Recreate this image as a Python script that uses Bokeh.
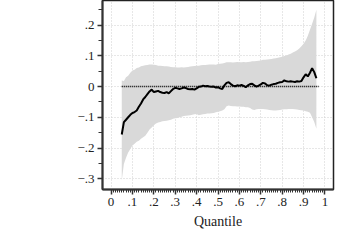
from bokeh.plotting import figure
from bokeh.models import FixedTicker, Range1d, ColumnDataSource
from bokeh.embed import file_html
from bokeh.resources import INLINE

# ---- data -------------------------------------------------------------
quantile = [round(0.05 + 0.01 * i, 2) for i in range(92)]  # 0.05 ... 0.96

estimate = [
    -0.156, -0.116, -0.108, -0.100, -0.092, -0.086, -0.083, -0.078, -0.066, -0.055,
    -0.042, -0.034, -0.025, -0.016, -0.010, -0.018, -0.016, -0.014, -0.018, -0.020,
    -0.021, -0.018, -0.022, -0.015, -0.008, -0.004, -0.006, -0.008, -0.006, -0.003,
    -0.005, -0.008, -0.009, -0.008, -0.010, -0.006, -0.001, 0.000, 0.003, 0.001,
    0.002, 0.000, -0.001, 0.000, -0.003, -0.002, -0.006, -0.008, 0.004, 0.012,
    0.014, 0.008, 0.003, 0.001, 0.004, 0.003, 0.005, 0.002, -0.002, 0.004,
    0.008, 0.009, 0.004, 0.000, 0.003, 0.007, 0.012, 0.010, 0.004, 0.003,
    0.006, 0.008, 0.009, 0.012, 0.014, 0.015, 0.020, 0.017, 0.016, 0.017,
    0.016, 0.015, 0.017, 0.016, 0.018, 0.030, 0.040, 0.033, 0.045, 0.060,
    0.047, 0.027,
]

upper = [
    0.020, 0.018, 0.030, 0.035, 0.045, 0.052, 0.055, 0.060, 0.062, 0.066,
    0.068, 0.069, 0.070, 0.072, 0.072, 0.071, 0.070, 0.068, 0.068, 0.067,
    0.066, 0.066, 0.065, 0.064, 0.063, 0.063, 0.062, 0.062, 0.063, 0.062,
    0.063, 0.064, 0.065, 0.066, 0.067, 0.068, 0.068, 0.069, 0.070, 0.070,
    0.071, 0.072, 0.072, 0.072, 0.071, 0.073, 0.074, 0.075, 0.077, 0.079,
    0.079, 0.079, 0.078, 0.079, 0.080, 0.079, 0.079, 0.080, 0.079, 0.080,
    0.081, 0.082, 0.082, 0.083, 0.084, 0.085, 0.087, 0.087, 0.088, 0.089,
    0.090, 0.091, 0.092, 0.094, 0.095, 0.097, 0.099, 0.101, 0.104, 0.107,
    0.111, 0.114, 0.118, 0.124, 0.131, 0.139, 0.150, 0.165, 0.185, 0.204,
    0.225, 0.250,
]

lower = [
    -0.306, -0.252, -0.232, -0.215, -0.203, -0.192, -0.186, -0.180, -0.176, -0.170,
    -0.165, -0.160, -0.150, -0.140, -0.133, -0.126, -0.120, -0.117, -0.115, -0.113,
    -0.112, -0.111, -0.110, -0.108, -0.105, -0.103, -0.102, -0.100, -0.098, -0.096,
    -0.095, -0.094, -0.093, -0.092, -0.090, -0.089, -0.093, -0.092, -0.090, -0.089,
    -0.088, -0.088, -0.087, -0.086, -0.084, -0.082, -0.080, -0.078, -0.074, -0.064,
    -0.062, -0.063, -0.064, -0.064, -0.065, -0.065, -0.066, -0.066, -0.067, -0.067,
    -0.070, -0.075, -0.076, -0.074, -0.073, -0.073, -0.073, -0.074, -0.075, -0.076,
    -0.077, -0.078, -0.078, -0.077, -0.076, -0.075, -0.074, -0.074, -0.073, -0.073,
    -0.073, -0.074, -0.075, -0.076, -0.077, -0.078, -0.080, -0.082, -0.085, -0.100,
    -0.115, -0.137,
]

zero_x = [0.05, 0.97]
zero_y = [0.0, 0.0]

x_ticks = [0, 0.1, 0.2, 0.3, 0.4, 0.5, 0.6, 0.7, 0.8, 0.9, 1]
x_labels = ["0", ".1", ".2", ".3", ".4", ".5", ".6", ".7", ".8", ".9", "1"]
y_ticks = [-0.3, -0.2, -0.1, 0, 0.1, 0.2]
y_labels = ["\u2212.3", "\u2212.2", "\u2212.1", "0", ".1", ".2"]
x_title = "Quantile"

# ---- figure -----------------------------------------------------------
FONT = "Liberation Serif"

p = figure(width=352, height=232, output_backend="svg", toolbar_location=None,
           x_range=Range1d(-0.04, 1.04), y_range=Range1d(-0.335, 0.28),
           min_border_left=102, min_border_right=19, min_border_top=0,
           min_border_bottom=43, background_fill_color="white",
           border_fill_color="white")
p.outline_line_color = "#222222"
p.outline_line_width = 1.5

src = ColumnDataSource(dict(q=quantile, est=estimate, lo=lower, hi=upper))
p.varea(x="q", y1="lo", y2="hi", source=src, fill_color="#d9d9d9")
p.line(zero_x, zero_y, line_color="black", line_width=1.5, line_dash="1 1")
p.line(x="q", y="est", source=src, line_color="black", line_width=2)

p.xaxis.ticker = FixedTicker(ticks=x_ticks,
                             minor_ticks=[i / 100 for i in range(0, 101)])
p.yaxis.ticker = FixedTicker(ticks=y_ticks,
                             minor_ticks=[-0.3 + 0.05 * i for i in range(12)])
p.xaxis.major_label_overrides = dict(zip(x_ticks, x_labels))
p.yaxis.major_label_overrides = dict(zip(y_ticks, y_labels))
p.xaxis.axis_label = x_title

for ax in (p.xaxis, p.yaxis):
    ax.axis_line_color = "#333333"
    ax.axis_line_width = 2
    ax.major_tick_line_color = "#333333"
    ax.minor_tick_line_color = "#333333"
    ax.major_tick_line_width = 1.5
    ax.minor_tick_line_width = 1
    ax.major_tick_in = 0
    ax.major_tick_out = 5
    ax.minor_tick_in = 0
    ax.minor_tick_out = 3
    ax.major_label_text_font = FONT
    ax.major_label_text_font_size = "13px"
    ax.major_label_text_color = "#222222"
    ax.major_label_standoff = 3
    ax.axis_label_text_font = FONT
    ax.axis_label_text_font_size = "14px"
    ax.axis_label_text_font_style = "normal"
    ax.axis_label_text_color = "#222222"
    ax.axis_label_standoff = 5
p.yaxis.minor_tick_out = 4

for g in (p.xgrid, p.ygrid):
    g.grid_line_color = "#cfcfcf"
    g.grid_line_dash = "1 2"
    g.grid_line_width = 1
p.xgrid.ticker = FixedTicker(ticks=x_ticks)
p.ygrid.ticker = FixedTicker(ticks=y_ticks)

open("out.html", "w").write(file_html(p, INLINE))
